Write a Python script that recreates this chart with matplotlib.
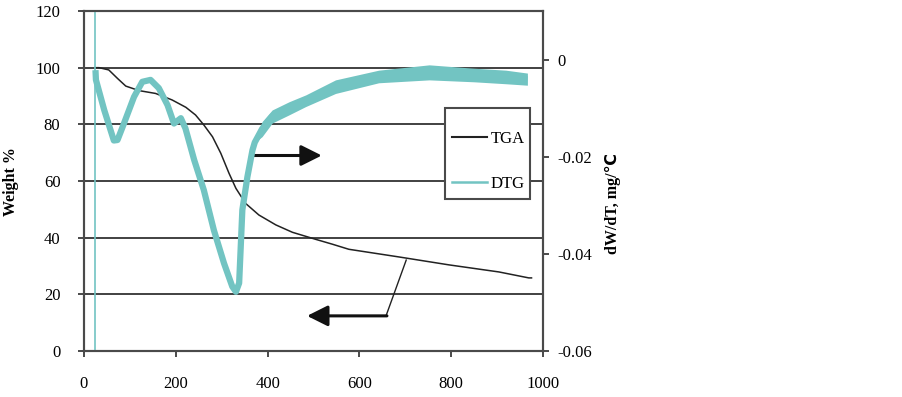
import matplotlib
matplotlib.use("Agg")
import matplotlib.pyplot as plt
from matplotlib.lines import Line2D
from matplotlib.patches import Rectangle

# ---- data ----
tga_T = [25, 33, 54, 73, 91, 120, 156, 192, 222, 243, 261, 280, 298, 316,
         331, 352, 381, 418, 454, 505, 541, 577, 686, 795, 904, 969, 975]
tga_W = [100.0, 100.0, 99.2, 96.2, 93.5, 91.9, 90.9, 88.6, 86.0, 83.3, 79.8,
         75.6, 69.8, 62.7, 57.4, 52.1, 48.0, 44.5, 41.9, 39.4, 37.7, 35.9,
         33.2, 30.4, 27.9, 25.8, 25.8]

# DTG centre line
dtg_T = [25, 26, 44, 65, 73, 87, 109, 127, 145, 163, 182, 196, 211, 221, 240,
         261, 283, 305, 323, 331, 338, 345, 356, 367, 372, 388, 410, 447, 483,
         548, 642, 752, 850, 919, 966]
dtg_V = [-0.0021, -0.0041, -0.0103, -0.0166, -0.0165, -0.0131, -0.0076,
         -0.0045, -0.0041, -0.0058, -0.0093, -0.0131, -0.0120, -0.0141,
         -0.0206, -0.0268, -0.0351, -0.0419, -0.0467, -0.0478, -0.0460,
         -0.0309, -0.0241, -0.0186, -0.0170, -0.0142, -0.0116, -0.0099,
         -0.0084, -0.0055, -0.0034, -0.0025, -0.0031, -0.0035, -0.0040]
# DTG noise envelope (upper / lower edge of the noisy trace)
band_T = [372, 388, 410, 447, 483, 548, 642, 752, 850, 919, 966]
band_hi = [-0.0170, -0.0127, -0.0103, -0.0086, -0.0072, -0.0041, -0.0021,
           -0.0010, -0.0017, -0.0021, -0.0027]
band_lo = [-0.0170, -0.0158, -0.0130, -0.0113, -0.0096, -0.0069, -0.0047,
           -0.0041, -0.0045, -0.0049, -0.0052]
# start-up spike of the DTG signal
spike_T = [24, 24]
spike_V = [0.02, -0.07]

x_ticks = [0, 200, 400, 600, 800, 1000]
y1_ticks = [0, 20, 40, 60, 80, 100, 120]
y2_ticks = [-0.06, -0.04, -0.02, 0]
y2_labels = ["-0.06", "-0.04", "-0.02", "0"]

TGA_COLOR = "#222222"
DTG_COLOR = "#72C4C2"
AX_COLOR = "#4a4a4a"

plt.rcParams["font.family"] = ["Liberation Serif", "DejaVu Sans"]

fig = plt.figure(figsize=(9.03, 3.97), dpi=100)
ax1 = fig.add_axes([84 / 903, 1 - 351 / 397, 459 / 903, 340 / 397])
ax2 = ax1.twinx()

ax1.set_xlim(0, 1000)
ax1.set_ylim(0, 120)
ax2.set_ylim(-0.06, 0.0101)

# grid
ax1.set_yticks(y1_ticks)
ax1.set_xticks(x_ticks)
ax1.yaxis.grid(True, color="#333333", linewidth=1.3)
ax1.set_axisbelow(True)

tga_line, = ax1.plot(tga_T, tga_W, color=TGA_COLOR, linewidth=1.1, zorder=3)
ax2.plot(spike_T, spike_V, color=DTG_COLOR, linewidth=1.2, zorder=2)
ax2.fill_between(band_T, band_lo, band_hi, color=DTG_COLOR, linewidth=0,
                 zorder=2)
dtg_line, = ax2.plot(dtg_T, dtg_V, color=DTG_COLOR, linewidth=4.5,
                     solid_joinstyle="round", solid_capstyle="butt", zorder=2)

for ax in (ax1, ax2):
    for s in ax.spines.values():
        s.set_color(AX_COLOR)
        s.set_linewidth(1.5)

ax1.tick_params(axis="both", direction="out", length=4, width=1.4,
                color=AX_COLOR, labelsize=12, pad=13)
ax1.tick_params(axis="x", pad=14)
ax2.set_yticks(y2_ticks)
ax2.set_yticklabels(y2_labels)
ax2.tick_params(axis="y", direction="out", length=4, width=1.4,
                color=AX_COLOR, labelsize=12, pad=6)

ax1.set_ylabel("Weight %", fontsize=11.5, fontweight="bold")
ax1.yaxis.set_label_coords(-0.142, 0.497)
ax2.set_ylabel("dW/dT, mg/℃", fontsize=11.5, fontweight="bold")
ax2.yaxis.set_label_coords(1.135, 0.435)

# arrows
arrow_kw = dict(arrowstyle="-|>,head_length=0.9,head_width=0.45",
                color="#111111", lw=2.2, mutation_scale=14,
                shrinkA=0, shrinkB=0)
ax1.annotate("", xy=(518, 69), xytext=(370, 69), arrowprops=arrow_kw,
             zorder=5)
ax1.annotate("", xy=(486, 12.4), xytext=(660, 12.4), arrowprops=arrow_kw,
             zorder=5)
ax1.plot([658, 702], [12.4, 32.1], color="#222222", linewidth=1.0, zorder=4)

# legend (frame drawn as a rectangle to match the reference padding)
ax2.add_patch(Rectangle((0.7865, 0.4471), 0.1852, 0.2676,
                        transform=ax2.transAxes, facecolor="white",
                        edgecolor=AX_COLOR, linewidth=1.5, zorder=6,
                        clip_on=False))
handles = [Line2D([], [], color=TGA_COLOR, linewidth=1.5),
           Line2D([], [], color=DTG_COLOR, linewidth=1.8)]
leg = ax2.legend(handles, ["TGA", "DTG"], loc="upper left",
                 bbox_to_anchor=(0.8017, 0.647), fontsize=12,
                 frameon=False, labelspacing=1.75, handlelength=2.1,
                 handletextpad=0.2, borderpad=0, borderaxespad=0)
leg.set_zorder(7)

fig.savefig("out.png", dpi=100)
